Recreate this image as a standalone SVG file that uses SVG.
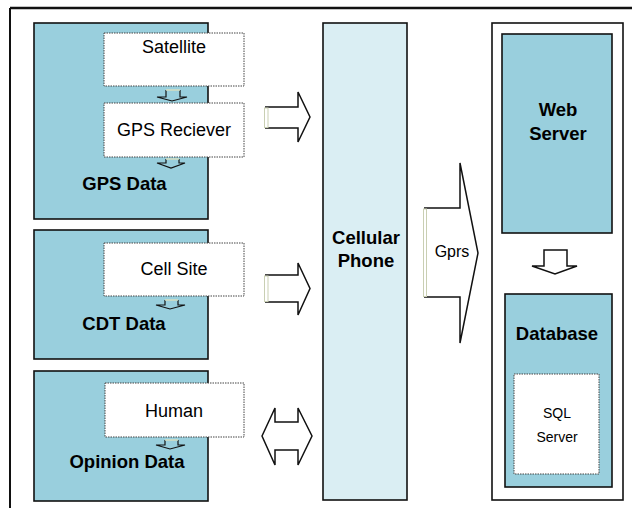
<svg xmlns="http://www.w3.org/2000/svg" width="632" height="508" viewBox="0 0 632 508">
<style>
.box{fill:#99CFDD;stroke:#111;stroke-width:1.6}
.phone{fill:#DAEEF3;stroke:#111;stroke-width:1.6}
.outer{fill:#fff;stroke:#111;stroke-width:1.6}
.dash{fill:#fff;stroke:#444;stroke-width:1;stroke-dasharray:1.5 1}
.arr{fill:#fff;stroke:#111;stroke-width:1.5;stroke-linejoin:miter}
.tail{fill:#fff;stroke:#C9CFB3;stroke-width:1}
.sa{fill:none;stroke:#111;stroke-width:1.2}
.st{fill:none;stroke:#D5DEC0;stroke-width:1.5}
text{font-family:"Liberation Sans",Arial,sans-serif;text-anchor:middle;fill:#000}
.r{font-size:18px}
.b{font-size:18.5px;font-weight:bold}
.s{font-size:14px}
.g{font-size:16px}
</style>
<rect width="632" height="508" fill="#fff"/>
<g id="frame">
<line x1="10" y1="8" x2="632" y2="8" stroke="#111" stroke-width="2.5"/>
<line x1="10" y1="8" x2="10" y2="508" stroke="#111" stroke-width="2"/>
</g>
<g id="gps">
<rect class="box" x="34" y="23" width="174" height="196"/>
<text class="b" x="124.5" y="190">GPS Data</text>
</g>
<g id="satellite">
<rect class="dash" x="104" y="33" width="140" height="53"/>
<text class="r" x="174" y="53">Satellite</text>
</g>
<g id="receiver">
<rect class="dash" x="104" y="103" width="140" height="54"/>
<text class="r" x="174" y="136">GPS Reciever</text>
</g>
<g id="cdt">
<rect class="box" x="34" y="230" width="174" height="129"/>
<text class="b" x="124" y="330">CDT Data</text>
</g>
<g id="cellsite">
<rect class="dash" x="104" y="243" width="140" height="53"/>
<text class="r" x="174" y="275">Cell Site</text>
</g>
<g id="opinion">
<rect class="box" x="34" y="371" width="174" height="130"/>
<text class="b" x="127" y="468">Opinion Data</text>
</g>
<g id="human">
<rect class="dash" x="105" y="383" width="139" height="54"/>
<text class="r" x="174" y="417">Human</text>
</g>
<g id="phone">
<rect class="phone" x="323" y="23" width="84" height="477"/>
<text class="b" x="366" y="244">Cellular</text>
<text class="b" x="366" y="267">Phone</text>
</g>
<g id="server-side">
<rect class="outer" x="492" y="23" width="131" height="477"/>
</g>
<g id="webserver">
<rect class="box" x="502" y="34" width="110" height="199"/>
<text class="b" x="558" y="116">Web</text>
<text class="b" x="558" y="140">Server</text>
</g>
<g id="database">
<rect class="box" x="505" y="294" width="107" height="193"/>
<text class="b" x="557" y="340">Database</text>
</g>
<g id="sqlserver">
<rect class="dash" x="514" y="374" width="85" height="100"/>
<text class="s" x="557" y="418">SQL</text>
<text class="s" x="557" y="442">Server</text>
</g>
<g id="connectors">
<path class="sa" d="M166,90 V97 H157 L172,101 L187,97 H180 V90"/><line class="st" x1="166" y1="90" x2="180" y2="90"/>
<path class="sa" d="M166,159 V163 H157 L171,168 L185,163 H179 V159"/><line class="st" x1="166" y1="159" x2="179" y2="159"/>
<path class="sa" d="M165,300 V305 H156 L170,309 L185,305 H178 V300"/><line class="st" x1="165" y1="300" x2="178" y2="300"/>
<path class="sa" d="M165,440 V445 H156 L170,449 L185,445 H178 V440"/><line class="st" x1="165" y1="440" x2="178" y2="440"/>
<path class="arr" d="M265,107 H298 V92 L310,117 L298,142 V128 H265"/>
<rect class="tail" x="264.5" y="108" width="3.5" height="19.5"/>
<path class="arr" d="M265,275 H298 V263 L310,288.5 L298,315 V302 H265"/>
<rect class="tail" x="264.5" y="276" width="3.5" height="25.5"/>
<path class="arr" d="M262,436 L275,408 V422 H298 V408 L312,436 L298,465 V450 H275 V465 Z"/>
<path class="arr" d="M424,208 H460 V163 L478,253 L460,343 V297 H424"/>
<rect class="tail" x="423.5" y="209" width="3" height="87.5"/>
<text class="g" x="452" y="257">Gprs</text>
<path class="arr" d="M544,250 V266 H532 L555,274 L577,266 H567 V250 Z"/>
</g>
</svg>
